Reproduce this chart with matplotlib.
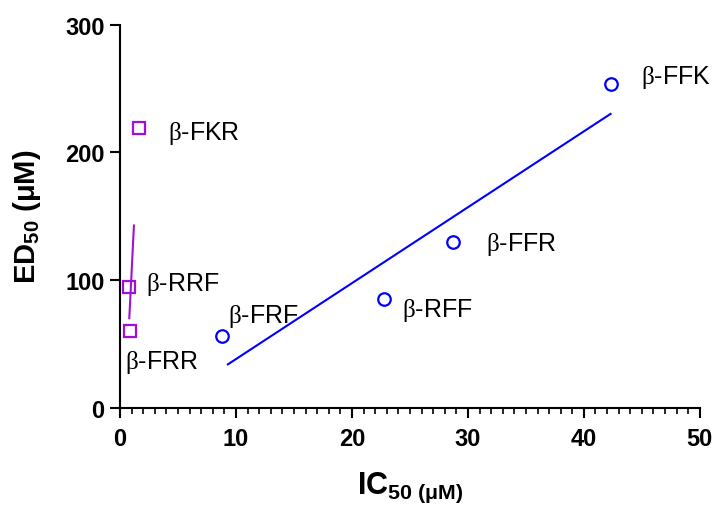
import numpy as np
import matplotlib
matplotlib.use("Agg")
import matplotlib.pyplot as plt
from matplotlib.ticker import MultipleLocator

plt.rcParams['font.family'] = ['Liberation Sans', 'DejaVu Sans']
plt.rcParams['mathtext.fontset'] = 'custom'
plt.rcParams['mathtext.rm'] = 'Liberation Serif'
plt.rcParams['mathtext.bf'] = 'Liberation Sans:bold'
plt.rcParams['mathtext.it'] = 'Liberation Sans:italic'

# Blue series (circles)
blue_names = ['β-FRF', 'β-RFF', 'β-FFR', 'β-FFK']
blue_ic50 = [8.8, 22.8, 28.7, 42.3]
blue_ed50 = [56, 85, 130, 254]
blue_fit_range = [9.3, 42.3]

# Purple series (squares)
purple_names = ['β-FKR', 'β-RRF', 'β-FRR']
purple_ic50 = [1.6, 0.8, 0.9]
purple_ed50 = [219, 95, 60]
purple_fit_range = [0.8, 1.2]

x_ticks = [0, 10, 20, 30, 40, 50]
y_ticks = [0, 100, 200, 300]

blue = '#0000FF'
purple = '#A010D8'

fig = plt.figure(figsize=(7.23, 5.06), dpi=100)
ax = fig.add_axes([0.166, 0.192, 0.802, 0.757])

# regression lines
for xs, ys, rng, c in [(blue_ic50, blue_ed50, blue_fit_range, blue),
                       (purple_ic50, purple_ed50, purple_fit_range, purple)]:
    m, b = np.polyfit(xs, ys, 1)
    xr = np.array(rng)
    ax.plot(xr, m * xr + b, color=c, lw=1.5, zorder=2)

ax.plot(blue_ic50, blue_ed50, 'o', mfc='none', mec=blue, mew=1.6, ms=9, zorder=3, clip_on=False)
ax.plot(purple_ic50, purple_ed50, 's', mfc='none', mec=purple, mew=1.6, ms=9, zorder=3, clip_on=False)

def lab(name):
    return r'$\mathrm{β}$' + name[1:]

# label offsets in points
blue_offsets = [(4, 15), (13, -7), (24, -1), (22, 5)]
purple_offsets = [(21, -3), (12, 2), (-4, -22)]
for n, x, y, off in zip(blue_names, blue_ic50, blue_ed50, blue_offsets):
    ax.annotate(lab(n), (x, y), xytext=off, textcoords='offset points',
                fontsize=18, va='center', ha='left')
for n, x, y, off in zip(purple_names, purple_ic50, purple_ed50, purple_offsets):
    ax.annotate(lab(n), (x, y), xytext=off, textcoords='offset points',
                fontsize=18, va='center', ha='left')

ax.set_xlim(0, 50)
ax.set_ylim(0, 300)
ax.set_xticks(x_ticks)
ax.set_yticks(y_ticks)
ax.xaxis.set_minor_locator(MultipleLocator(1))
ax.spines['top'].set_visible(False)
ax.spines['right'].set_visible(False)
for s in ['left', 'bottom']:
    ax.spines[s].set_linewidth(1.5)
ax.tick_params(axis='both', which='major', length=7, width=1.5, labelsize=17, pad=4)
ax.tick_params(axis='x', which='major', pad=7)
ax.tick_params(axis='x', which='minor', length=4, width=1.2)
for t in ax.get_xticklabels() + ax.get_yticklabels():
    t.set_fontweight('bold')

ax.set_xlabel(r'IC$_{\mathbf{50\ (μM)}}$', fontsize=22, fontweight='bold', labelpad=14)
ax.set_ylabel(r'ED$_{\mathbf{50}}$ (μM)', fontsize=21, fontweight='bold', labelpad=16)

fig.savefig('out.png', dpi=100)
